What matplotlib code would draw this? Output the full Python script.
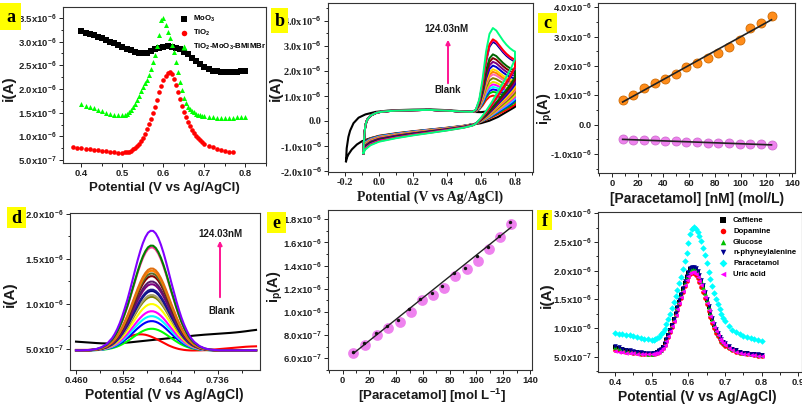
import matplotlib
matplotlib.use("Agg")
import matplotlib.pyplot as plt
from matplotlib.patches import Rectangle, FancyArrowPatch
from matplotlib.ticker import FuncFormatter, AutoMinorLocator, FixedLocator
import numpy as np

plt.rcParams["font.family"] = ["Liberation Sans", "DejaVu Sans"]
plt.rcParams["font.weight"] = "bold"
plt.rcParams["mathtext.fontset"] = "custom"
plt.rcParams["mathtext.rm"] = "Liberation Sans:bold"
plt.rcParams["mathtext.default"] = "rm"

W, H = 803, 407
SERIF = "Liberation Serif"
PINKARROW = "#FF1493"

# ── panel a: DPV of the three electrodes (currents in µA) ─────────────────────
XA = [0.40, 0.41, 0.42, 0.43, 0.44, 0.45, 0.46, 0.47, 0.48, 0.49, 0.50, 0.51,
      0.52, 0.53, 0.54, 0.55, 0.56, 0.57, 0.58, 0.59, 0.60, 0.61, 0.62, 0.63,
      0.64, 0.65, 0.66, 0.67, 0.68, 0.69, 0.70, 0.71, 0.72, 0.73, 0.74, 0.75,
      0.76, 0.77, 0.78, 0.79, 0.80]
MOO3 = [3.22, 3.19, 3.16, 3.13, 3.10, 3.07, 3.04, 3.00, 2.97, 2.93, 2.89, 2.85,
        2.82, 2.79, 2.77, 2.76, 2.77, 2.80, 2.84, 2.87, 2.89, 2.90, 2.89, 2.87,
        2.84, 2.79, 2.73, 2.66, 2.59, 2.52, 2.46, 2.42, 2.39, 2.37, 2.36, 2.35,
        2.35, 2.35, 2.36, 2.37, 2.38]

XFINE = [0.40, 0.41, 0.42, 0.43, 0.44, 0.45, 0.46, 0.47, 0.48, 0.49,
         0.500, 0.505, 0.510, 0.515, 0.520, 0.525, 0.530, 0.535, 0.540, 0.545,
         0.550, 0.555, 0.560, 0.565, 0.570, 0.575, 0.580, 0.585, 0.590, 0.595,
         0.600, 0.605, 0.610, 0.615, 0.620, 0.625, 0.630, 0.635, 0.640, 0.645,
         0.650, 0.655, 0.660, 0.665, 0.670, 0.675, 0.680, 0.685, 0.690, 0.695,
         0.700, 0.71, 0.72, 0.73, 0.74, 0.75, 0.76, 0.77, 0.78, 0.79, 0.80]
COMPOSITE = [1.68, 1.65, 1.62, 1.59, 1.56, 1.53, 1.50, 1.48, 1.46, 1.45,
             1.45, 1.46, 1.48, 1.51, 1.56, 1.62, 1.69, 1.77, 1.86, 1.95,
             2.04, 2.12, 2.20, 2.30, 2.43, 2.57, 2.72, 2.90, 3.15, 3.45,
             3.50, 3.35, 3.20, 3.07, 2.93, 2.78, 2.58, 2.35, 2.15, 1.98,
             1.81, 1.70, 1.63, 1.58, 1.54, 1.51, 1.48, 1.46, 1.45, 1.44,
             1.43, 1.41, 1.40, 1.39, 1.38, 1.38, 1.38, 1.39, 1.40, 1.41, 1.42]

XTIO2 = [0.38, 0.39] + XFINE[:-3]
TIO2 = [0.78, 0.76,
        0.75, 0.74, 0.73, 0.72, 0.71, 0.70, 0.69, 0.68, 0.67, 0.66,
        0.66, 0.665, 0.67, 0.68, 0.70, 0.73, 0.76, 0.80, 0.84, 0.90,
        0.97, 1.06, 1.16, 1.26, 1.36, 1.49, 1.63, 1.77, 1.93, 2.07,
        2.19, 2.28, 2.34, 2.36, 2.32, 2.22, 2.08, 1.93, 1.79, 1.65,
        1.52, 1.41, 1.31, 1.22, 1.14, 1.07, 1.01, 0.96, 0.92, 0.88,
        0.85, 0.80, 0.77, 0.74, 0.72, 0.70, 0.68, 0.67]

# ── panel b: CV loops (µA); colored loops share one traced shape ──────────────
BLANK_CV_X = [-0.194, -0.19, -0.18, -0.17, -0.15, -0.12, -0.08, -0.02, 0.05, 0.1,
              0.2, 0.3, 0.4, 0.5, 0.55, 0.6, 0.65, 0.7, 0.75, 0.8, 0.8, 0.75,
              0.7, 0.65, 0.6, 0.55, 0.5, 0.4, 0.3, 0.2, 0.1, 0.0, -0.05, -0.1,
              -0.13, -0.16, -0.18, -0.19, -0.194]
BLANK_CV_Y = [-1.62, -1.10, -0.65, -0.40, -0.10, 0.12, 0.25, 0.35, 0.40, 0.42,
              0.44, 0.45, 0.42, 0.37, 0.35, 0.34, 0.38, 0.45, 0.52, 0.60, 0.55,
              0.35, 0.15, 0.0, -0.10, -0.15, -0.21, -0.30, -0.37, -0.44, -0.52,
              -0.62, -0.70, -0.82, -0.95, -1.15, -1.35, -1.50, -1.62]
CV_UP_X = [-0.092, -0.09, -0.085, -0.08, -0.07, -0.05, -0.02, 0.0, 0.05, 0.1,
           0.2, 0.3, 0.4, 0.5, 0.55]
CV_UP_Y = [-1.30, -0.95, -0.50, -0.18, 0.03, 0.20, 0.30, 0.34, 0.38, 0.40,
           0.42, 0.43, 0.40, 0.36, 0.35]
CV_OX_X = [0.57, 0.59, 0.61, 0.63, 0.65, 0.67, 0.69, 0.71, 0.73, 0.75, 0.77,
           0.79, 0.80]
CV_OX_SHAPE = [0.03, 0.15, 0.40, 0.72, 0.93, 1.0, 0.97, 0.91, 0.85, 0.80, 0.76,
               0.73, 0.72]
CV_RET_X = [0.80, 0.78, 0.75, 0.72, 0.69, 0.66, 0.63, 0.60, 0.57, 0.55]
CV_RET_SHAPE = [0.68, 0.60, 0.50, 0.41, 0.32, 0.23, 0.15, 0.08, 0.02, 0.0]
CV_LOW_X = [0.55, 0.5, 0.4, 0.3, 0.2, 0.1, 0.0, -0.05, -0.08, -0.092]
CV_LOW_Y = [-0.14, -0.20, -0.28, -0.35, -0.42, -0.50, -0.60, -0.70, -0.82, -0.92]
CV_PEAKS = [1.00, 1.15, 1.25, 1.35, 1.45, 1.55, 1.70, 1.85, 1.95, 2.05, 2.20,
            2.35, 2.50, 2.65, 3.15, 3.22, 3.25, 3.70]
CV_LOW_K = [1.00, 1.02, 1.04, 1.06, 1.08, 1.10, 1.12, 1.14, 1.16, 1.18, 1.20,
            1.22, 1.25, 1.28, 1.31, 1.34, 1.37, 1.40]
CV_COLORS = ["#FF0000", "#00C000", "#0000FF", "#00FFFF", "#FF00FF", "#E0E000",
             "#808000", "#FF69B4", "#FF8000", "#FFD700", "#0000CD", "#800080",
             "#800000", "#006400", "#000080", "#FF00FF", "#FF0000", "#00FF80"]

# ── panel c: calibration, anodic & cathodic peak currents (µA) ────────────────
CONC = [8.27, 16.54, 24.81, 33.08, 41.35, 49.62, 57.89, 66.16, 74.43, 82.70,
        90.97, 99.24, 107.51, 115.78, 124.03]
IPA = [0.84, 1.01, 1.24, 1.43, 1.56, 1.73, 1.98, 2.09, 2.26, 2.45, 2.64, 2.89,
       3.31, 3.48, 3.72]
IPC = [-0.50, -0.52, -0.53, -0.54, -0.56, -0.57, -0.58, -0.60, -0.61, -0.62,
       -0.64, -0.65, -0.66, -0.67, -0.70]

# ── panel d: DPV at increasing concentration (×1e-7 A) ────────────────────────
XD = [0.46, 0.47, 0.48, 0.49, 0.50, 0.51, 0.52, 0.53,
      0.535, 0.54, 0.545, 0.55, 0.555, 0.56, 0.565, 0.57, 0.575, 0.58, 0.585,
      0.59, 0.595, 0.60, 0.605, 0.61, 0.615, 0.62, 0.625, 0.63, 0.635, 0.64,
      0.645, 0.65, 0.655, 0.66, 0.665, 0.67, 0.675, 0.68, 0.685, 0.69,
      0.70, 0.71, 0.72, 0.73, 0.74, 0.75, 0.76, 0.77, 0.78, 0.79, 0.80, 0.81]
D_SHAPE = [0, 0, 0.002, 0.005, 0.012, 0.027, 0.054, 0.101,
           0.135, 0.177, 0.227, 0.286, 0.354, 0.425, 0.505, 0.589, 0.673, 0.755,
           0.830, 0.895, 0.946, 0.982, 0.998, 0.997, 0.976, 0.937, 0.882, 0.815,
           0.738, 0.655, 0.571, 0.492, 0.412, 0.339, 0.273, 0.216, 0.168, 0.127,
           0.095, 0.070,
           0.036, 0.017, 0.007, 0.003, 0, 0, 0, 0, 0, 0, 0, 0]
D_BLANK = [5.82, 5.78, 5.74, 5.70, 5.66, 5.63, 5.62, 5.62,
           5.63, 5.64, 5.66, 5.68, 5.70, 5.72, 5.74, 5.77, 5.80, 5.83, 5.86,
           5.89, 5.92, 5.95, 5.98, 6.01, 6.04, 6.07, 6.10, 6.13, 6.16, 6.19,
           6.22, 6.25, 6.28, 6.31, 6.34, 6.37, 6.40, 6.43, 6.46, 6.49,
           6.54, 6.59, 6.63, 6.67, 6.71, 6.75, 6.79, 6.84, 6.90, 6.97, 7.05, 7.12]
D_FIRST = [4.9, 4.9, 4.9, 4.9, 4.95, 5.0, 5.1, 5.3,
           5.45, 5.6, 5.8, 5.95, 6.1, 6.25, 6.4, 6.5, 6.58, 6.62, 6.63, 6.62,
           6.58, 6.5, 6.4, 6.28, 6.15, 6.0, 5.85, 5.7, 5.55, 5.4, 5.28, 5.17,
           5.08, 5.0, 4.95, 4.9, 4.87, 4.85, 4.84, 4.84,
           4.85, 4.87, 4.9, 4.95, 5.0, 5.05, 5.1, 5.15, 5.2, 5.25, 5.28, 5.3]
D_BASE = 4.85
D_PEAKS = [7.25, 8.1, 8.65, 9.2, 10.0, 10.8, 11.0, 11.45, 11.6, 12.2, 12.5,
           13.1, 13.4, 13.7, 13.95, 16.3, 16.5, 18.15]
D_COLORS = ["#00FF00", "#0000FF", "#00FFFF", "#FF00FF", "#FFFF00", "#808000",
            "#A8A070", "#000080", "#1A1A90", "#800080", "#5A1A6A", "#800000",
            "#556B2F", "#FF8000", "#E07010", "#FF3399", "#008000", "#8000FF"]

# ── panel e: DPV calibration (µA) ─────────────────────────────────────────────
E_CONC = [8.0, 16.7, 25.9, 34.1, 42.8, 51.1, 59.0, 67.8, 75.7, 84.0, 92.7,
          101.4, 109.4, 117.6, 125.8]
E_IP = [0.643, 0.715, 0.80, 0.865, 0.917, 1.003, 1.104, 1.147, 1.204, 1.311,
        1.368, 1.44, 1.544, 1.645, 1.76]
E_CONC_DOT = [7.5, 15.9, 24.9, 33.4, 41.6, 49.6, 57.8, 66.5, 74.5, 83.2, 91.4,
              100.1, 108.4, 116.8, 125.1]
E_IP_DOT = [0.658, 0.73, 0.816, 0.879, 0.93, 1.023, 1.112, 1.161, 1.224, 1.34,
            1.383, 1.483, 1.564, 1.659, 1.774]

# ── panel f: interference study (µA) on XFINE ─────────────────────────────────
CAFFEINE = [0.67, 0.65, 0.63, 0.62, 0.60, 0.59, 0.58, 0.57, 0.56, 0.55,
            0.55, 0.56, 0.57, 0.58, 0.60, 0.62, 0.66, 0.72, 0.79, 0.87,
            0.96, 1.05, 1.15, 1.25, 1.35, 1.46, 1.57, 1.68, 1.79, 1.89,
            1.96, 2.02, 2.05, 2.05, 2.02, 1.97, 1.90, 1.81, 1.72, 1.61,
            1.49, 1.37, 1.26, 1.15, 1.05, 0.97, 0.90, 0.84, 0.79, 0.75,
            0.72, 0.67, 0.64, 0.61, 0.59, 0.57, 0.56, 0.55, 0.54, 0.53, 0.53]
DOPAMINE = [0.62, 0.61, 0.60, 0.59, 0.58, 0.57, 0.56, 0.55, 0.55, 0.54,
            0.54, 0.55, 0.56, 0.57, 0.59, 0.61, 0.65, 0.70, 0.77, 0.85,
            0.93, 1.02, 1.12, 1.22, 1.32, 1.42, 1.52, 1.63, 1.73, 1.82,
            1.89, 1.94, 1.96, 1.95, 1.92, 1.87, 1.80, 1.72, 1.63, 1.52,
            1.41, 1.30, 1.19, 1.09, 1.00, 0.92, 0.86, 0.80, 0.76, 0.72,
            0.69, 0.65, 0.62, 0.59, 0.57, 0.56, 0.55, 0.54, 0.53, 0.52, 0.52]
GLUCOSE = [0.67, 0.65, 0.63, 0.62, 0.60, 0.59, 0.58, 0.57, 0.56, 0.55,
           0.55, 0.56, 0.57, 0.58, 0.60, 0.62, 0.66, 0.72, 0.79, 0.87,
           0.96, 1.05, 1.15, 1.25, 1.35, 1.46, 1.57, 1.68, 1.79, 1.89,
           1.96, 2.02, 2.05, 2.05, 2.02, 1.97, 1.90, 1.81, 1.72, 1.61,
           1.49, 1.37, 1.26, 1.15, 1.05, 0.97, 0.90, 0.84, 0.79, 0.75,
           0.72, 0.67, 0.64, 0.61, 0.59, 0.57, 0.56, 0.55, 0.54, 0.53, 0.53]
NPHE = [0.68, 0.66, 0.64, 0.62, 0.61, 0.60, 0.59, 0.58, 0.57, 0.56,
        0.56, 0.56, 0.57, 0.59, 0.61, 0.63, 0.67, 0.73, 0.80, 0.88,
        0.97, 1.06, 1.16, 1.26, 1.37, 1.48, 1.59, 1.70, 1.81, 1.91,
        1.98, 2.04, 2.07, 2.07, 2.04, 1.99, 1.92, 1.83, 1.74, 1.63,
        1.51, 1.39, 1.28, 1.17, 1.07, 0.98, 0.91, 0.85, 0.80, 0.76,
        0.73, 0.68, 0.64, 0.61, 0.59, 0.57, 0.56, 0.55, 0.54, 0.54, 0.53]
PARACETAMOL = [0.91, 0.90, 0.89, 0.88, 0.87, 0.86, 0.85, 0.83, 0.81, 0.80,
               0.79, 0.79, 0.80, 0.82, 0.85, 0.89, 0.93, 0.99, 1.07, 1.16,
               1.25, 1.35, 1.45, 1.56, 1.67, 1.78, 1.89, 2.02, 2.16, 2.31,
               2.48, 2.63, 2.73, 2.76, 2.72, 2.67, 2.60, 2.51, 2.40, 2.27,
               2.13, 1.98, 1.85, 1.73, 1.61, 1.51, 1.42, 1.33, 1.25, 1.18,
               1.12, 1.03, 0.97, 0.93, 0.89, 0.86, 0.84, 0.82, 0.80, 0.79, 0.78]
URIC = [0.60, 0.59, 0.58, 0.57, 0.56, 0.56, 0.55, 0.55, 0.54, 0.54,
        0.54, 0.55, 0.56, 0.57, 0.59, 0.61, 0.65, 0.71, 0.78, 0.86,
        0.94, 1.03, 1.13, 1.23, 1.33, 1.43, 1.54, 1.65, 1.75, 1.84,
        1.91, 1.96, 1.98, 1.97, 1.94, 1.89, 1.82, 1.74, 1.65, 1.54,
        1.43, 1.32, 1.21, 1.11, 1.02, 0.94, 0.87, 0.81, 0.77, 0.73,
        0.70, 0.65, 0.62, 0.59, 0.57, 0.55, 0.54, 0.53, 0.53, 0.52, 0.52]
INTERFERENTS = [("Caffiene", CAFFEINE, "s", "#000000"),
                ("Dopamine", DOPAMINE, "o", "#FF0000"),
                ("Glucose", GLUCOSE, "^", "#00C000"),
                ("n-phyneylalenine", NPHE, "v", "#000090"),
                ("Paracetamol", PARACETAMOL, "D", "#00FFFF"),
                ("Uric acid", URIC, "<", "#FF00FF")]


def _sci(v, _):
    if abs(v) < 1e-12:
        return "0.0"
    e = int(np.floor(np.log10(abs(v)) + 1e-9))
    return f"{v / 10 ** e:.1f}x10$^{{{e}}}$"


def _box(l, t, r, b):
    return fig.add_axes([l / W, 1 - b / H, (r - l) / W, (b - t) / H])


def _style(ax, xticks, yticks, xlim, ylim, serif=False, xfmt=None):
    ax.set_xlim(*xlim)
    ax.set_ylim(*ylim)
    ax.xaxis.set_major_locator(FixedLocator(xticks))
    ax.yaxis.set_major_locator(FixedLocator(yticks))
    ax.xaxis.set_minor_locator(AutoMinorLocator(2))
    ax.yaxis.set_minor_locator(AutoMinorLocator(2))
    ax.yaxis.set_major_formatter(FuncFormatter(_sci))
    if xfmt:
        ax.xaxis.set_major_formatter(FuncFormatter(xfmt))
    for s in ax.spines.values():
        s.set_linewidth(0.8)
        s.set_color("#333333")
    ax.tick_params(direction="out", length=3, width=0.7,
                   labelsize=7.5 if serif else 6.8, pad=1.5, colors="#222222",
                   labelfontfamily=SERIF if serif else "Liberation Sans")
    ax.tick_params(which="minor", direction="out", length=1.8, width=0.6)


def _txt(x, y, s, size=9, rot=0, family=None, color="#1a1a1a"):
    fig.text(x / W, 1 - y / H, s, ha="center", va="center", fontsize=size,
             rotation=rot, fontweight="bold", color=color,
             family=family or "Liberation Sans")


def _tag(l, t, r, b, letter):
    fig.add_artist(Rectangle((l / W, 1 - b / H), (r - l) / W, (b - t) / H,
                             transform=fig.transFigure, facecolor="#FFFF00",
                             edgecolor="none"))
    _txt((l + r) / 2, (t + b) / 2 + 1, letter, size=13, family=SERIF,
         color="#000000")


def _arrow(x, y0, y1):
    fig.add_artist(FancyArrowPatch(
        (x / W, 1 - y0 / H), (x / W, 1 - y1 / H), transform=fig.transFigure,
        arrowstyle="-|>", mutation_scale=6, color=PINKARROW, lw=1.4))


fig = plt.figure(figsize=(W / 100, H / 100), dpi=100, facecolor="white")

# a
ax = _box(63, 7, 266, 163)
ax.scatter(XA, [v * 1e-6 for v in MOO3], marker="s", s=15, color="#000000",
           lw=0, label="MoO$_3$")
ax.scatter(XTIO2, [v * 1e-6 for v in TIO2], marker="o", s=11, color="#FF0000",
           lw=0, label="TiO$_2$")
ax.scatter(XFINE, [v * 1e-6 for v in COMPOSITE], marker="^", s=13,
           color="#00FF00", lw=0, label="TiO$_2$-MoO$_3$-BMIMBr")
_style(ax, [0.4, 0.5, 0.6, 0.7, 0.8], [5e-7, 1e-6, 1.5e-6, 2e-6, 2.5e-6, 3e-6, 3.5e-6],
       (0.355, 0.85), (4.4e-7, 3.73e-6), xfmt=lambda v, _: f"{v:.1f}")
ax.legend(loc="upper left", bbox_to_anchor=(177 / W, 1 - 10 / H),
          bbox_transform=fig.transFigure, frameon=False, fontsize=5.6,
          handlelength=0.9, handletextpad=0.7, borderpad=0, labelspacing=0.5,
          markerscale=1.2)
_txt(164, 188, "Potential (V vs Ag/AgCl)", size=9.5)
_txt(9, 88, "i(A)", size=11, rot=90)
_tag(0, 3, 21, 30, "a")

# b
ax = _box(328, 3, 533, 172)
ax.plot(BLANK_CV_X, [v * 1e-6 for v in BLANK_CV_Y], color="#000000", lw=1.5)
for pk, k, col in zip(CV_PEAKS, CV_LOW_K, CV_COLORS):
    low = [v * k for v in CV_LOW_Y]
    ox = [0.35 + (pk - 0.35) * p for p in CV_OX_SHAPE]
    ret = [low[0] + (pk - low[0]) * p for p in CV_RET_SHAPE]
    xs = CV_UP_X + CV_OX_X + CV_RET_X + CV_LOW_X + CV_UP_X[:1]
    ys = CV_UP_Y + ox + ret + low + CV_UP_Y[:1]
    ax.plot(xs, [v * 1e-6 for v in ys], color=col, lw=1.4)
_style(ax, [-0.2, 0.0, 0.2, 0.4, 0.6, 0.8], [-2e-6, -1e-6, 0, 1e-6, 2e-6, 3e-6, 4e-6],
       (-0.3, 0.906), (-2.05e-6, 4.7e-6), serif=True, xfmt=lambda v, _: f"{v:.1f}")
_txt(446, 29, "124.03nM", size=7)
_arrow(448, 86, 37)
_txt(448, 90, "Blank", size=7)
_txt(430, 197, "Potential (V vs Ag/AgCl)", size=10, family=SERIF)
_txt(276, 88, "i(A)", size=11, rot=90)
_tag(271, 8, 288, 33, "b")

# c
ax = _box(598, 3, 795, 173)
ax.scatter(CONC, [v * 1e-6 for v in IPA], s=42, color="#FF8C1A",
           edgecolors="#D06A00", lw=0.6, zorder=2)
ax.scatter(CONC, [v * 1e-6 for v in IPC], s=42, color="#EE82EE",
           edgecolors="#D070D0", lw=0.6, zorder=2)
for ys in (IPA, IPC):
    fit = np.polyfit(CONC, ys, 1)
    ax.plot([CONC[0], CONC[-1]], [np.polyval(fit, CONC[0]) * 1e-6,
                                  np.polyval(fit, CONC[-1]) * 1e-6],
            color="#222222", lw=1.2, zorder=3)
_style(ax, [0, 20, 40, 60, 80, 100, 120, 140], [-1e-6, 0, 1e-6, 2e-6, 3e-6, 4e-6],
       (-10.9, 142.3), (-1.65e-6, 4.15e-6), xfmt=lambda v, _: f"{v:.0f}")
_txt(697, 199, "[Paracetamol] [nM] (mol/L)", size=10)
_txt(545, 109, "i$_p$(A)", size=10.5, rot=90)
_tag(538, 13, 557, 33, "c")

# d
ax = _box(70, 213, 260, 370)
ax.plot(XD, [v * 1e-7 for v in D_BLANK], color="#000000", lw=1.5)
ax.plot(XD, [v * 1e-7 for v in D_FIRST], color="#FF0000", lw=1.5)
for pk, col in zip(D_PEAKS, D_COLORS):
    ax.plot(XD, [(D_BASE + (pk - D_BASE) * p) * 1e-7 for p in D_SHAPE],
            color=col, lw=1.5)
_style(ax, [0.460, 0.552, 0.644, 0.736], [5e-7, 1e-6, 1.5e-6, 2e-6],
       (0.4483, 0.8177), (2.67e-7, 2.01e-6), xfmt=lambda v, _: f"{v:.3f}")
_txt(220, 234, "124.03nM", size=7)
_arrow(220, 300, 238)
_txt(222, 311, "Blank", size=7)
_txt(164, 395, "Potential (V vs Ag/AgCl)", size=10)
_txt(10, 294, "i(A)", size=11, rot=90)
_tag(7, 207, 26, 228, "d")

# e
ax = _box(328, 210, 532, 370)
ax.scatter(E_CONC, [v * 1e-6 for v in E_IP], s=60, color="#EE82EE", lw=0,
           zorder=2)
fit = np.polyfit(E_CONC_DOT, E_IP_DOT, 1)
ax.plot([E_CONC[0], E_CONC[-1]], [np.polyval(fit, E_CONC[0]) * 1e-6,
                                  np.polyval(fit, E_CONC[-1]) * 1e-6],
        color="#222222", lw=1.0, zorder=3)
ax.scatter(E_CONC_DOT, [v * 1e-6 for v in E_IP_DOT], s=6, color="#111111",
           lw=0, zorder=4)
_style(ax, [0, 20, 40, 60, 80, 100, 120, 140],
       [6e-7, 8e-7, 1e-6, 1.2e-6, 1.4e-6, 1.6e-6, 1.8e-6],
       (-11.0, 141.5), (0.5e-6, 1.88e-6), xfmt=lambda v, _: f"{v:.0f}")
_txt(432, 396, "[Paracetamol] [mol L$^{-1}$]", size=9.5)
_txt(275, 287, "i$_p$(A)", size=10.5, rot=90)
_tag(267, 212, 286, 233, "e")

# f
ax = _box(598, 212, 802, 372)
for name, ys, mk, col in INTERFERENTS:
    ax.scatter(XFINE, [v * 1e-6 for v in ys], marker=mk, s=11, color=col, lw=0,
               label=name)
_style(ax, [0.4, 0.5, 0.6, 0.7, 0.8, 0.9],
       [5e-7, 1e-6, 1.5e-6, 2e-6, 2.5e-6, 3e-6],
       (0.3536, 0.91), (0.233e-6, 3.02e-6), xfmt=lambda v, _: f"{v:.1f}")
ax.legend(loc="upper left", bbox_to_anchor=(716 / W, 1 - 213 / H),
          bbox_transform=fig.transFigure, frameon=False, fontsize=5.6,
          handlelength=0.9, handletextpad=0.8, borderpad=0, labelspacing=0.42,
          markerscale=1.2)
_txt(697, 397, "Potential (V vs Ag/AgCl)", size=10)
_txt(547, 295, "i(A)", size=11, rot=90)
_tag(537, 210, 552, 230, "f")

fig.savefig("out.png", dpi=100, facecolor="white")
